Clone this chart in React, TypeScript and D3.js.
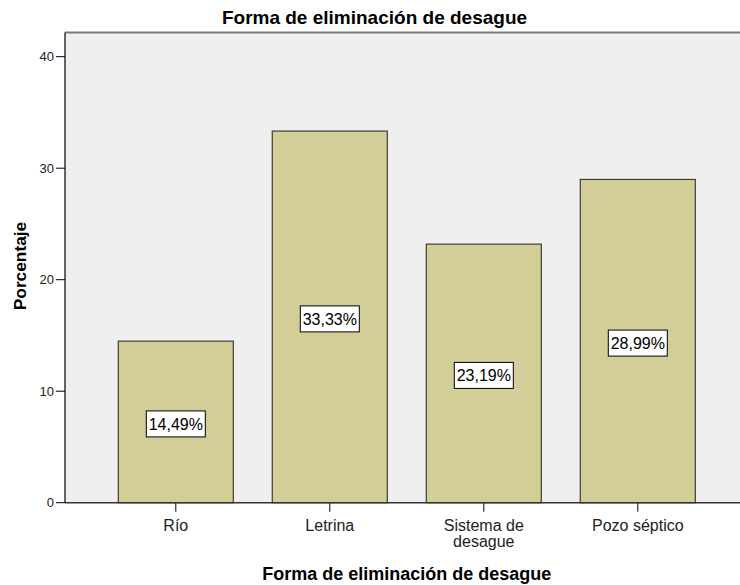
import React from "react";
import * as d3 from "d3";

const categories = ["Río", "Letrina", "Sistema de desague", "Pozo séptico"];
const categoryLines = [["Río"], ["Letrina"], ["Sistema de", "desague"], ["Pozo séptico"]];
const values = [14.49, 33.33, 23.19, 28.99];
const valueLabels = ["14,49%", "33,33%", "23,19%", "28,99%"];
const yTicks = [0, 10, 20, 30, 40];
const title = "Forma de eliminación de desague";
const xTitle = "Forma de eliminación de desague";
const yTitle = "Porcentaje";

const W = 740;
const H = 585;
const left = 65;
const right = 748.6;
const top = 32.5;
const bottom = 502.7;
const font = "'Liberation Sans', Arial, sans-serif";

export default function App() {
  const x = d3
    .scaleBand<string>()
    .domain(categories)
    .range([left, right])
    .paddingInner(0.253)
    .paddingOuter(0.346);
  const y = d3.scaleLinear().domain([0, 42.17]).range([bottom, top]);

  return (
    <svg
      width={W}
      height={H}
      style={{ position: "absolute", left: 0, top: 0, background: "#fff" }}
      fontFamily={font}
    >
      <rect x={left} y={top} width={right - left} height={bottom - top} fill="#efefef" />
      <line x1={left} x2={right} y1={top} y2={top} stroke="#7a7a7a" strokeWidth={2} />
      <text x={374.5} y={24} textAnchor="middle" fontSize={19} fontWeight="bold" fill="#000">
        {title}
      </text>

      {categories.map((c, i) => {
        const bx = x(c)!;
        const by = y(values[i]);
        const cx = bx + x.bandwidth() / 2;
        const ly = y(values[i] / 2) + 2;
        return (
          <g key={c}>
            <rect
              x={bx}
              y={by}
              width={x.bandwidth()}
              height={bottom - by}
              fill="#d3ce97"
              stroke="#3d3d35"
              strokeWidth={1.2}
            />
            <rect x={cx - 29.5} y={ly - 13} width={59} height={26} fill="#fff" stroke="#000" strokeWidth={1} />
            <text x={cx} y={ly + 5.7} textAnchor="middle" fontSize={16} fill="#000">
              {valueLabels[i]}
            </text>
            <line x1={cx} x2={cx} y1={bottom} y2={bottom + 9} stroke="#000" strokeWidth={1} />
            <text textAnchor="middle" fontSize={16} fill="#222">
              {categoryLines[i].map((ln, j) => (
                <tspan key={j} x={cx} y={531 + j * 15.5}>
                  {ln}
                </tspan>
              ))}
            </text>
          </g>
        );
      })}

      <line x1={left} x2={right} y1={bottom} y2={bottom} stroke="#333" strokeWidth={1.5} />
      <line x1={left} x2={left} y1={top} y2={bottom} stroke="#000" strokeWidth={1.2} />
      {yTicks.map((t) => (
        <g key={t}>
          <line x1={left - 9} x2={left} y1={y(t)} y2={y(t)} stroke="#000" strokeWidth={1} />
          <text x={left - 11} y={y(t) + 4.5} textAnchor="end" fontSize={13} fill="#222">
            {t}
          </text>
        </g>
      ))}

      <text x={406.8} y={580} textAnchor="middle" fontSize={18} fontWeight="bold" fill="#000">
        {xTitle}
      </text>
      <text
        transform={`translate(26,${266}) rotate(-90)`}
        textAnchor="middle"
        fontSize={17.3}
        fontWeight="bold"
        fill="#000"
      >
        {yTitle}
      </text>
    </svg>
  );
}
